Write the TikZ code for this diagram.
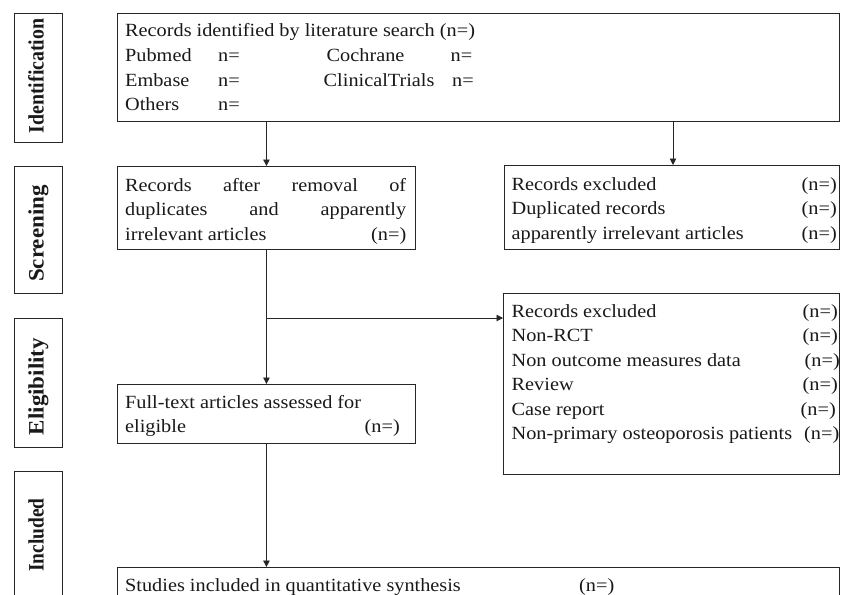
\documentclass[tikz,border=0pt]{standalone}
\usepackage{fontspec}
\setmainfont{Liberation Serif}
\newfontfamily\bodyfont[FakeStretch=1.09]{Liberation Serif}
\usetikzlibrary{arrows.meta}
\newcommand\bodyfs{\bodyfont\fontsize{18.6pt}{24.5pt}\selectfont}
\newcommand\labfs{\fontsize{22pt}{26pt}\selectfont\bfseries}
\tikzset{
  line/.style={draw=black!85, line width=0.9pt},
  box/.style={line, rectangle, inner sep=0pt, anchor=north west},
  txt/.style={inner sep=0pt, font=\bodyfs, text=black!90},
  lab/.style={inner sep=0pt, rotate=90, anchor=base, text=black!90, font=\labfs},
  arr/.style={line, -{Triangle[length=6.5pt,width=6.5pt]}}
}
\begin{document}
\begin{tikzpicture}[x=1pt,y=-1pt]
\useasboundingbox (0,0) rectangle (848,594);
\clip (0,0) rectangle (848,594);
\fill[white] (0,0) rectangle (848,594);

% stage label boxes
\node[box, minimum width=48pt, minimum height=129pt] (L1) at (14,13) {};
\node[box, minimum width=48pt, minimum height=127pt] (L2) at (14,166) {};
\node[box, minimum width=48pt, minimum height=129pt] (L3) at (14,318) {};
\node[box, minimum width=48pt, minimum height=150pt] (L4) at (14,471) {};
\node[lab] (l1) at (43.5,76) {\scalebox{0.905}[1]{Identification}};
\node[lab] (l2) at (43.5,233.5) {\scalebox{1.044}[1]{Screening}};
\node[lab] (l3) at (43.5,386.5) {\scalebox{1.044}[1]{Eligibility}};
\node[lab] (l4) at (43.5,535) {\scalebox{0.884}[1]{Included}};

% flow boxes
\node[box, minimum width=722pt, minimum height=108pt] (b1) at (117,13) {};
\node[box, minimum width=298pt, minimum height=83pt] (b2) at (117,166) {};
\node[box, minimum width=335pt, minimum height=84pt] (b3) at (504,165) {};
\node[box, minimum width=298pt, minimum height=59pt] (b4) at (117,384) {};
\node[box, minimum width=336pt, minimum height=181pt] (b5) at (503,293) {};
\node[box, minimum width=722pt, minimum height=60pt] (b6) at (117,567) {};

% box 1 text
\node[txt, anchor=base west] (t11) at (125,37) {Records identified by literature search (n=)};
\node[txt, anchor=base west] (t12) at (125,61.5) {Pubmed};
\node[txt, anchor=base west] (t13) at (218,61.5) {n=};
\node[txt, anchor=base west] (t14) at (326.5,61.5) {Cochrane};
\node[txt, anchor=base west] (t15) at (450.5,61.5) {n=};
\node[txt, anchor=base west] (t16) at (125,86) {Embase};
\node[txt, anchor=base west] (t17) at (218,86) {n=};
\node[txt, anchor=base west] (t18) at (323.5,86) {ClinicalTrials};
\node[txt, anchor=base west] (t19) at (452,86) {n=};
\node[txt, anchor=base west] (t110) at (125,110.5) {Others};
\node[txt, anchor=base west] (t111) at (218,110.5) {n=};

% box 2 text
\node[txt, anchor=base west] (t21) at (125,191) {\makebox[281pt][s]{Records\hfill after\hfill removal\hfill of}};
\node[txt, anchor=base west] (t22) at (125,215.5) {\makebox[281pt][s]{duplicates\hfill and\hfill apparently}};
\node[txt, anchor=base west] (t23) at (125,240) {irrelevant articles};
\node[txt, anchor=base east] (t24) at (406.5,240) {(n=)};

% box 3 text
\node[txt, anchor=base west] (t31) at (511.5,190) {Records excluded};
\node[txt, anchor=base east] (t32) at (837,190) {(n=)};
\node[txt, anchor=base west] (t33) at (511.5,214.5) {Duplicated records};
\node[txt, anchor=base east] (t34) at (837,214.5) {(n=)};
\node[txt, anchor=base west] (t35) at (511.5,239) {apparently irrelevant articles};
\node[txt, anchor=base east] (t36) at (837,239) {(n=)};

% box 4 text
\node[txt, anchor=base west] (t41) at (125,408) {Full-text articles assessed for};
\node[txt, anchor=base west] (t42) at (125,432.5) {eligible};
\node[txt, anchor=base east] (t43) at (400,432.5) {(n=)};

% box 5 text
\node[txt, anchor=base west] (t51) at (511.5,317) {Records excluded};
\node[txt, anchor=base east] (t52) at (838,317) {(n=)};
\node[txt, anchor=base west] (t53) at (511.5,341.5) {Non-RCT};
\node[txt, anchor=base east] (t54) at (838,341.5) {(n=)};
\node[txt, anchor=base west] (t55) at (511.5,366) {Non outcome measures data};
\node[txt, anchor=base east] (t56) at (840,366) {(n=)};
\node[txt, anchor=base west] (t57) at (511.5,390.5) {Review};
\node[txt, anchor=base east] (t58) at (838,390.5) {(n=)};
\node[txt, anchor=base west] (t59) at (511.5,415) {Case report};
\node[txt, anchor=base east] (t510) at (836,415) {(n=)};
\node[txt, anchor=base west] (t511) at (511.5,439.5) {Non-primary osteoporosis patients};
\node[txt, anchor=base east] (t512) at (839.5,439.5) {(n=)};

% box 6 text
\node[txt, anchor=base west] (t61) at (125,591) {Studies included in quantitative synthesis};
\node[txt, anchor=base west] (t62) at (579,591) {(n=)};

% connectors
\draw[arr] (b2.north |- b1.south) -- (b2.north);
\draw[arr] (673,0 |- b1.south) -- (673,0 |- b3.north);
\draw[arr] (b2.south) -- (b4.north);
\coordinate (br) at (266,318);
\draw[arr] (br) -- (br -| b5.west);
\draw[arr] (b4.south) -- (b4.south |- b6.north);
\end{tikzpicture}
\end{document}
